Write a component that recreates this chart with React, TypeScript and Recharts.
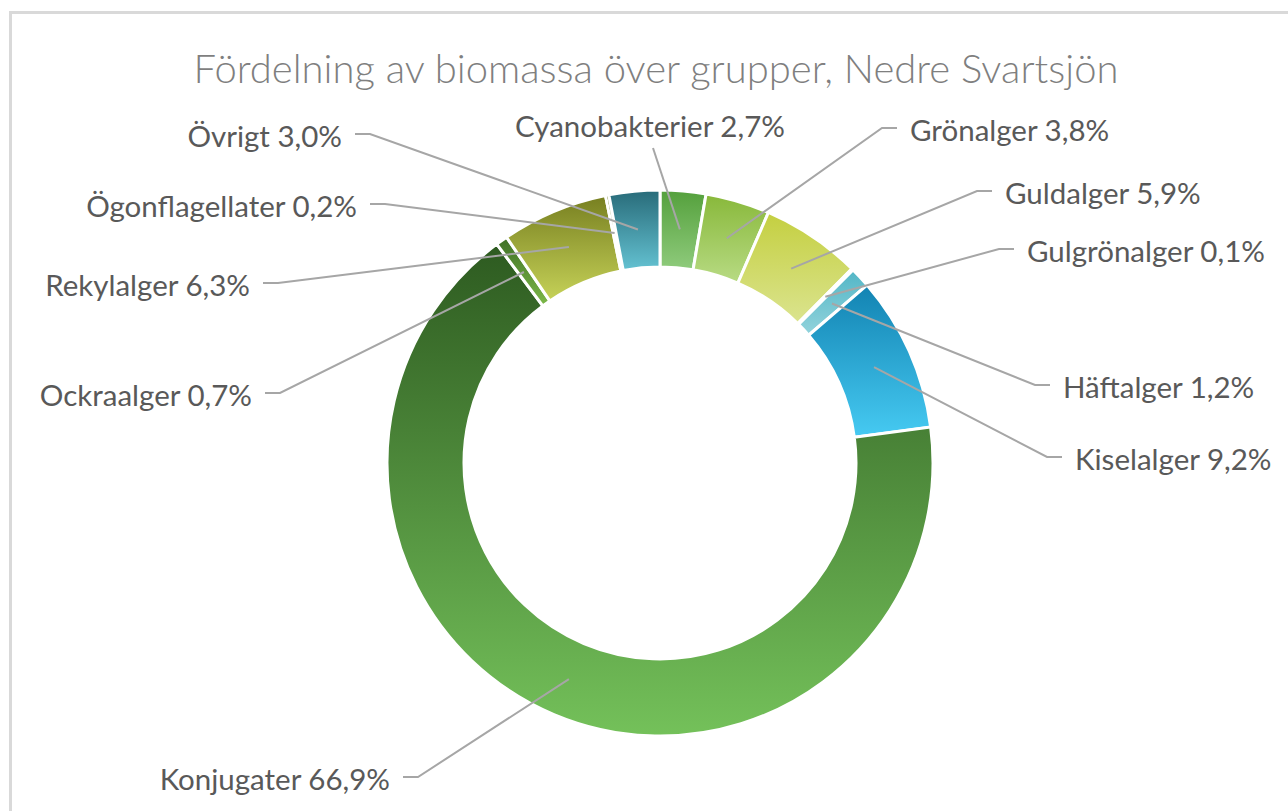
import { PieChart, Pie, Cell } from "recharts";

// Biomassa per grupp (%), Nedre Svartsjön
const groups = [
  "Cyanobakterier",
  "Grönalger",
  "Guldalger",
  "Gulgrönalger",
  "Häftalger",
  "Kiselalger",
  "Konjugater",
  "Ockraalger",
  "Rekylalger",
  "Ögonflagellater",
  "Övrigt",
];
const shares = [2.7, 3.8, 5.9, 0.1, 1.2, 9.2, 66.9, 0.7, 6.3, 0.2, 3.0];

// gradient top -> bottom for each slice
const topColors = [
  "#54a03c", "#88b83a", "#c4cf40", "#4fb4c4", "#52b6c6", "#1283b2",
  "#2d5a20", "#3f7026", "#777f20", "#6a7a26", "#286b79",
];
const bottomColors = [
  "#8fcb7c", "#b8db84", "#dbe48f", "#8fd2dc", "#92d3dc", "#46caf2",
  "#74c15a", "#7cb848", "#c6d258", "#a8b848", "#64c2d2",
];

// where each label sits (text edge x, text middle y)
const labelLayout: Record<string, { x: number; y: number; side: "left" | "right" | "top" }> = {
  Cyanobakterier: { x: 650, y: 125, side: "top" },
  Grönalger: { x: 910, y: 129, side: "right" },
  Guldalger: { x: 1005, y: 192, side: "right" },
  Gulgrönalger: { x: 1027, y: 250, side: "right" },
  Häftalger: { x: 1063, y: 386, side: "right" },
  Kiselalger: { x: 1075, y: 458, side: "right" },
  Konjugater: { x: 390, y: 778, side: "left" },
  Ockraalger: { x: 252, y: 394, side: "left" },
  Rekylalger: { x: 250, y: 284, side: "left" },
  Ögonflagellater: { x: 357, y: 205, side: "left" },
  Övrigt: { x: 342, y: 135, side: "left" },
};

const data = groups.map((name, i) => ({ name, value: shares[i] }));

const RADIAN = Math.PI / 180;
const FONT = "Lato, 'Open Sans', sans-serif";
const TEXT = "#595959";
const LINE = "#a6a6a6";
const LABEL_SIZE = 29.5;

const fmt = (v: number) => v.toFixed(1).replace(".", ",") + "%";

const renderLabel = (props: any) => {
  const { cx, cy, midAngle, innerRadius, outerRadius, name, value } = props;
  const r = (innerRadius + outerRadius) / 2;
  const sx = cx + r * Math.cos(-midAngle * RADIAN);
  const sy = cy + r * Math.sin(-midAngle * RADIAN);
  const pos = labelLayout[name];
  if (!pos) return null;
  const text = `${name} ${fmt(value)}`;

  if (pos.side === "top") {
    return (
      <g>
        <polyline
          points={`${sx},${sy} ${pos.x + 3},${pos.y + 23}`}
          fill="none"
          stroke={LINE}
          strokeWidth={2}
        />
        <text
          x={pos.x}
          y={pos.y}
          textAnchor="middle"
          dominantBaseline="central"
          fill={TEXT}
          fontSize={LABEL_SIZE}
          fontFamily={FONT}
        >
          {text}
        </text>
      </g>
    );
  }

  const dir = pos.side === "left" ? 1 : -1;
  const e1 = pos.x + dir * 13;
  const e2 = pos.x + dir * 28;
  return (
    <g>
      <polyline
        points={`${sx},${sy} ${e2},${pos.y - 1} ${e1},${pos.y - 1}`}
        fill="none"
        stroke={LINE}
        strokeWidth={2}
      />
      <text
        x={pos.x}
        y={pos.y}
        textAnchor={pos.side === "left" ? "end" : "start"}
        dominantBaseline="central"
        fill={TEXT}
        fontSize={LABEL_SIZE}
        fontFamily={FONT}
      >
        {text}
      </text>
    </g>
  );
};

export default function App() {
  return (
    <div
      style={{
        position: "absolute",
        left: 0,
        top: 0,
        width: 1288,
        height: 811,
        background: "#ffffff",
        overflow: "hidden",
      }}
    >
      <div
        style={{
          position: "absolute",
          left: 9,
          top: 11,
          width: 1300,
          height: 820,
          border: "3px solid #d9d9d9",
          boxSizing: "border-box",
        }}
      />
      <div
        style={{
          position: "absolute",
          left: 0,
          top: 44,
          width: 1312,
          textAlign: "center",
          fontFamily: FONT,
          fontWeight: 300,
          fontSize: 40,
          lineHeight: "48px",
          color: "#7f7f7f",
          whiteSpace: "nowrap",
        }}
      >
        Fördelning av biomassa över grupper, Nedre Svartsjön
      </div>
      <div style={{ position: "absolute", left: 0, top: 0 }}>
        <PieChart width={1288} height={811}>
          <defs>
            {groups.map((g, i) => (
              <linearGradient key={g} id={`grad${i}`} x1="0" y1="0" x2="0" y2="1">
                <stop offset="0%" stopColor={topColors[i]} />
                <stop offset="100%" stopColor={bottomColors[i]} />
              </linearGradient>
            ))}
          </defs>
          <Pie
            data={data}
            dataKey="value"
            nameKey="name"
            cx={655}
            cy={458}
            innerRadius={196}
            outerRadius={273}
            startAngle={90}
            endAngle={-270}
            stroke="#ffffff"
            strokeWidth={3}
            label={renderLabel}
            labelLine={false}
            isAnimationActive={false}
          >
            {data.map((d, i) => (
              <Cell key={d.name} fill={`url(#grad${i})`} />
            ))}
          </Pie>
        </PieChart>
      </div>
    </div>
  );
}
